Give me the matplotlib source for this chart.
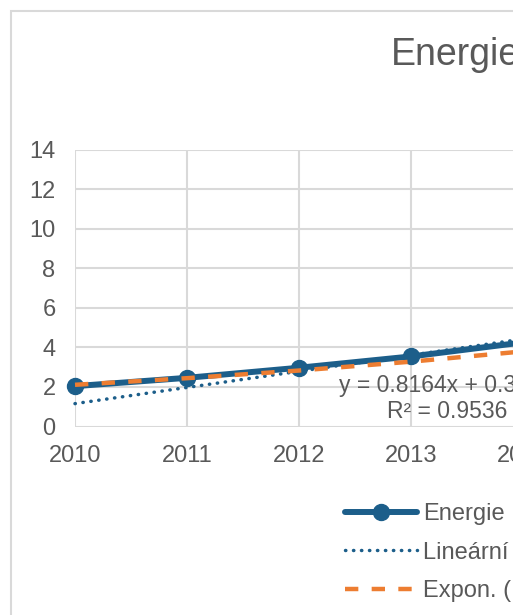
import matplotlib
matplotlib.use("Agg")
import matplotlib.pyplot as plt
import numpy as np
from matplotlib.patches import Rectangle

# ---- data ----
years = ["2010", "2011", "2012", "2013", "2014"]
energie = [2.04, 2.46, 2.97, 3.54, 4.25]
lin_slope = 0.8164
lin_intercept = 0.3396
exp_a = 1.82
exp_b = 0.147
eq_text = "y = 0.8164x + 0.3396"
r2_text = "R² = 0.9536"
title = "Energie"
labels = ["Energie", "Lineární (Energie)", "Expon. (Energie)"]
yticks = [0, 2, 4, 6, 8, 10, 12, 14]

W, H = 513, 615
plt.rcParams['font.family'] = ['Liberation Sans', 'DejaVu Sans']
fig = plt.figure(figsize=(W / 100, H / 100), dpi=100)

def fx(x):
    return x / W

def fy(y):
    return 1 - y / H

TXT = "#595959"
GRID = "#D9D9D9"
BLUE = "#1C5E8A"
ORANGE = "#ED7D31"

# chart area border (left & top visible)
fig.patches.append(Rectangle((fx(10.5), fy(H + 50)), 2.0, (H + 50 - 10.5) / H,
                             transform=fig.transFigure, fill=False,
                             edgecolor=GRID, lw=1.5))

left, right, top, bottom = 75, 523, 149.5, 426.5
ax = fig.add_axes([fx(left), fy(bottom), (right - left) / W, (bottom - top) / H])

x = np.arange(len(years))
xn = x + 1
lin = lin_slope * xn + lin_intercept
expo = exp_a * np.exp(exp_b * xn)

ax.plot(x, energie, color=BLUE, lw=4.3, marker='o', ms=11.5, clip_on=False,
        zorder=3, solid_capstyle='round', label=labels[0])
ax.plot(x, lin, color=BLUE, lw=2.5, linestyle=(0, (0.1, 2.2)),
        dash_capstyle='round', clip_on=False, zorder=4, label=labels[1])
ax.plot(x, expo, color=ORANGE, lw=3.2, linestyle=(0, (3.0, 3.0)),
        clip_on=False, zorder=5, label=labels[2])

ax.set_xlim(0, len(years) - 1)
ax.set_ylim(0, 14)
ax.set_xticks(x)
ax.set_xticklabels(years)
ax.set_yticks(yticks)
for s in ax.spines.values():
    s.set_visible(False)
ax.grid(True, color=GRID, lw=1.5, zorder=0)
ax.set_axisbelow(True)
ax.tick_params(axis='both', length=0, labelsize=17, colors=TXT)
ax.tick_params(axis='y', pad=14)
ax.tick_params(axis='x', pad=13)

# trendline equation
fig.text(fx(447), fy(392), eq_text, ha='center', va='baseline', fontsize=16.5, color=TXT)
fig.text(fx(447), fy(418), r2_text, ha='center', va='baseline', fontsize=16.5, color=TXT)

# title
fig.text(fx(391), fy(65), title, ha='left', va='baseline', fontsize=27, color=TXT)

leg = fig.legend(loc='upper left', bbox_to_anchor=(fx(345), fy(503)),
                 frameon=False, fontsize=17, handlelength=3.05,
                 handletextpad=0.25, labelspacing=0.70, borderpad=0,
                 borderaxespad=0)
for t in leg.get_texts():
    t.set_color(TXT)

fig.savefig("out.png", dpi=100)
